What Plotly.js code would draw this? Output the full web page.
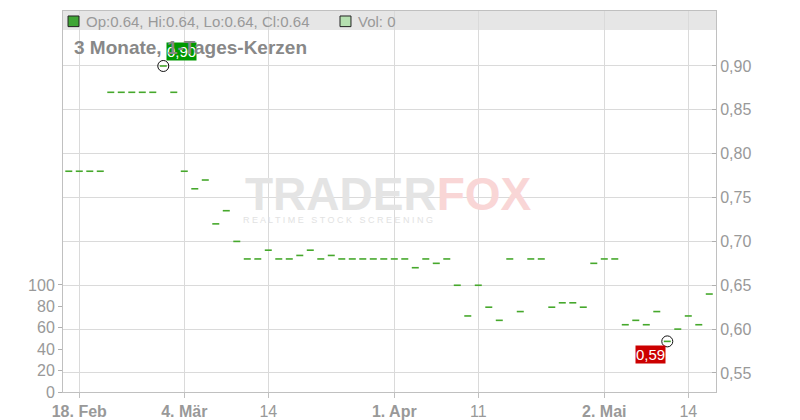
<!DOCTYPE html>
<html>
<head>
<meta charset="utf-8">
<script src="https://cdn.plot.ly/plotly-3.0.1.min.js"></script>
<style>html,body{margin:0;padding:0;background:#fff;}#chart{width:800px;height:420px;}</style>
</head>
<body>
<div id="chart"></div>
<script>
// Trading days (German exchange calendar, holidays skipped)
const dates = [
  "2019-02-15","2019-02-18","2019-02-19","2019-02-20","2019-02-21","2019-02-22","2019-02-25","2019-02-26","2019-02-27","2019-02-28",
  "2019-03-01","2019-03-04","2019-03-05","2019-03-06","2019-03-07","2019-03-08","2019-03-11","2019-03-12","2019-03-13","2019-03-14","2019-03-15",
  "2019-03-18","2019-03-19","2019-03-20","2019-03-21","2019-03-22","2019-03-25","2019-03-26","2019-03-27","2019-03-28","2019-03-29",
  "2019-04-01","2019-04-02","2019-04-03","2019-04-04","2019-04-05","2019-04-08","2019-04-09","2019-04-10","2019-04-11","2019-04-12",
  "2019-04-15","2019-04-16","2019-04-17","2019-04-18","2019-04-23","2019-04-24","2019-04-25","2019-04-26","2019-04-29","2019-04-30",
  "2019-05-02","2019-05-03","2019-05-06","2019-05-07","2019-05-08","2019-05-09","2019-05-10","2019-05-13","2019-05-14","2019-05-15","2019-05-16"
];
// Daily candles (open = high = low = close)
const closes = [
  0.78,0.78,0.78,0.78,0.87,0.87,0.87,0.87,0.87,0.90,
  0.87,0.78,0.76,0.77,0.72,0.735,0.70,0.68,0.68,0.69,0.68,
  0.68,0.684,0.69,0.68,0.684,0.68,0.68,0.68,0.68,0.68,
  0.68,0.68,0.67,0.68,0.675,0.68,0.65,0.615,0.65,0.625,
  0.61,0.68,0.62,0.68,0.68,0.625,0.63,0.63,0.625,0.675,
  0.68,0.68,0.605,0.61,0.605,0.62,0.586,0.60,0.615,0.605,0.64
];
const volumes = [
  0,0,0,0,0,0,0,0,0,0,
  0,0,0,0,0,0,0,0,0,0,0,
  0,0,0,0,0,0,0,0,0,0,
  0,0,0,0,0,0,0,0,0,0,
  0,0,0,0,0,0,0,0,0,0,
  0,0,0,0,0,0,0,0,0,0,0
];
const tickDates = ["2019-02-18","2019-03-04","2019-03-14","2019-04-01","2019-04-11","2019-05-02","2019-05-14"];
const tickLabels = ["<b>18. Feb</b>","<b>4. Mär</b>","14","<b>1. Apr</b>","11","<b>2. Mai</b>","14"];
const priceTicks = [0.55,0.60,0.65,0.70,0.75,0.80,0.85,0.90];
const volTicks = [0,20,40,60,80,100];
const headerText = "Op:0.64, Hi:0.64, Lo:0.64, Cl:0.64";
const volText = "Vol: 0";
const titleText = "3 Monate, 1-Tages-Kerzen";

const GREEN = "#46a82c";
const GRAY = "#999999";
const FONT = "Liberation Sans, Arial, sans-serif";

let iMax = 0, iMin = 0;
closes.forEach((v, i) => { if (v > closes[iMax]) iMax = i; if (v < closes[iMin]) iMin = i; });
const fmt = v => v.toFixed(2).replace(".", ",");

const traces = [
  {
    type: "bar", x: dates, y: volumes, yaxis: "y2", marker: {color: "#aaddaa"},
    hoverinfo: "skip", showlegend: false
  },
  {
    type: "scatter", mode: "markers", x: dates, y: closes,
    marker: {symbol: "line-ew", size: 5, color: GREEN, line: {color: GREEN, width: 1.6}},
    showlegend: false, hoverinfo: "x+y"
  },
  {
    type: "scatter", mode: "markers", x: [dates[iMax], dates[iMin]], y: [closes[iMax], closes[iMin]],
    marker: {symbol: "circle-open", size: 11, color: "#111", line: {color: "#111", width: 1}},
    showlegend: false, hoverinfo: "skip"
  }
];

const layout = {
  width: 800, height: 420,
  margin: {l: 63, r: 84, t: 11, b: 28, pad: 0},
  paper_bgcolor: "#ffffff", plot_bgcolor: "rgba(0,0,0,0)",
  separators: ",.",
  showlegend: false,
  font: {family: FONT, size: 16, color: GRAY},
  xaxis: {
    type: "category",
    range: [-0.55, 61.64],
    tickmode: "array",
    tickvals: tickDates, ticktext: tickLabels,
    showgrid: true, gridcolor: "#dadada", gridwidth: 1,
    showline: true, linecolor: "#c0c0c0", linewidth: 1, mirror: true,
    ticks: "outside", ticklen: 5, tickcolor: "#c0c0c0",
    tickfont: {family: FONT, size: 16, color: GRAY},
    zeroline: false, fixedrange: true
  },
  yaxis: {
    side: "right",
    range: [0.5283, 0.9627],
    tickmode: "array", tickvals: priceTicks, tickformat: ".2f",
    showgrid: true, gridcolor: "#dadada", gridwidth: 1,
    showline: true, linecolor: "#c0c0c0", linewidth: 1,
    ticks: "inside", ticklen: 4, tickcolor: "#b0b0b0",
    tickfont: {family: FONT, size: 16, color: GRAY},
    zeroline: false, fixedrange: true
  },
  yaxis2: {
    overlaying: "y", side: "left",
    range: [0, 356],
    tickmode: "array", tickvals: volTicks,
    showgrid: false,
    showline: true, linecolor: "#c0c0c0", linewidth: 1,
    ticks: "outside", ticklen: 4, tickcolor: "#b0b0b0",
    tickfont: {family: FONT, size: 16, color: GRAY},
    zeroline: false, fixedrange: true
  },
  shapes: [
    {type: "rect", xref: "paper", yref: "paper", x0: 0, x1: 1, y0: 0.9501, y1: 1,
     fillcolor: "#e6e6e6", line: {width: 0}, layer: "below"},
    {type: "rect", xref: "paper", yref: "paper", x0: 0.0077, x1: 0.0245, y0: 0.959, y1: 0.9869,
     fillcolor: "#3fa535", line: {color: "#222", width: 1}},
    {type: "rect", xref: "paper", yref: "paper", x0: 0.4242, x1: 0.441, y0: 0.959, y1: 0.9869,
     fillcolor: "#b5e0b0", line: {color: "#222", width: 1}}
  ],
  annotations: [
    {xref: "paper", yref: "paper", x: 0.4992, y: 0.52, xanchor: "center", yanchor: "middle",
     text: "<b>TRADER<span style='color:#f9d6d6'>FOX</span></b>", showarrow: false,
     font: {family: FONT, size: 46, color: "#e4e4e4"}},
    {xref: "paper", yref: "paper", x: 0.4211, y: 0.451, xanchor: "center", yanchor: "middle",
     text: "R E A L T I M E   S T O C K   S C R E E N I N G", showarrow: false,
     font: {family: FONT, size: 9, color: "#e2e2e2"}},
    {xref: "paper", yref: "paper", x: 0.0322, y: 0.9724, xanchor: "left", yanchor: "middle",
     text: headerText, showarrow: false, font: {family: FONT, size: 15, color: GRAY}},
    {xref: "paper", yref: "paper", x: 0.4487, y: 0.9724, xanchor: "left", yanchor: "middle",
     text: volText, showarrow: false, font: {family: FONT, size: 15, color: GRAY}},
    {x: dates[iMax], y: closes[iMax], xref: "x", yref: "y", xanchor: "left", yanchor: "bottom",
     xshift: 3, yshift: 5, text: fmt(closes[iMax]), showarrow: false, bgcolor: "#009900",
     borderpad: 0, font: {family: FONT, size: 15, color: "#ffffff"}},
    {x: dates[iMin], y: closes[iMin], xref: "x", yref: "y", xanchor: "right", yanchor: "top",
     xshift: -1, yshift: -4, text: fmt(closes[iMin]), showarrow: false, bgcolor: "#cc0000",
     borderpad: 0, font: {family: FONT, size: 15, color: "#ffffff"}},
    {xref: "paper", yref: "paper", x: 0.0138, y: 0.9055, xanchor: "left", yanchor: "middle",
     text: "<b>" + titleText + "</b>", showarrow: false,
     font: {family: FONT, size: 19, color: "#888888"}}
  ]
};

Plotly.newPlot("chart", traces, layout, {displayModeBar: false, staticPlot: true});
</script>
</body>
</html>
